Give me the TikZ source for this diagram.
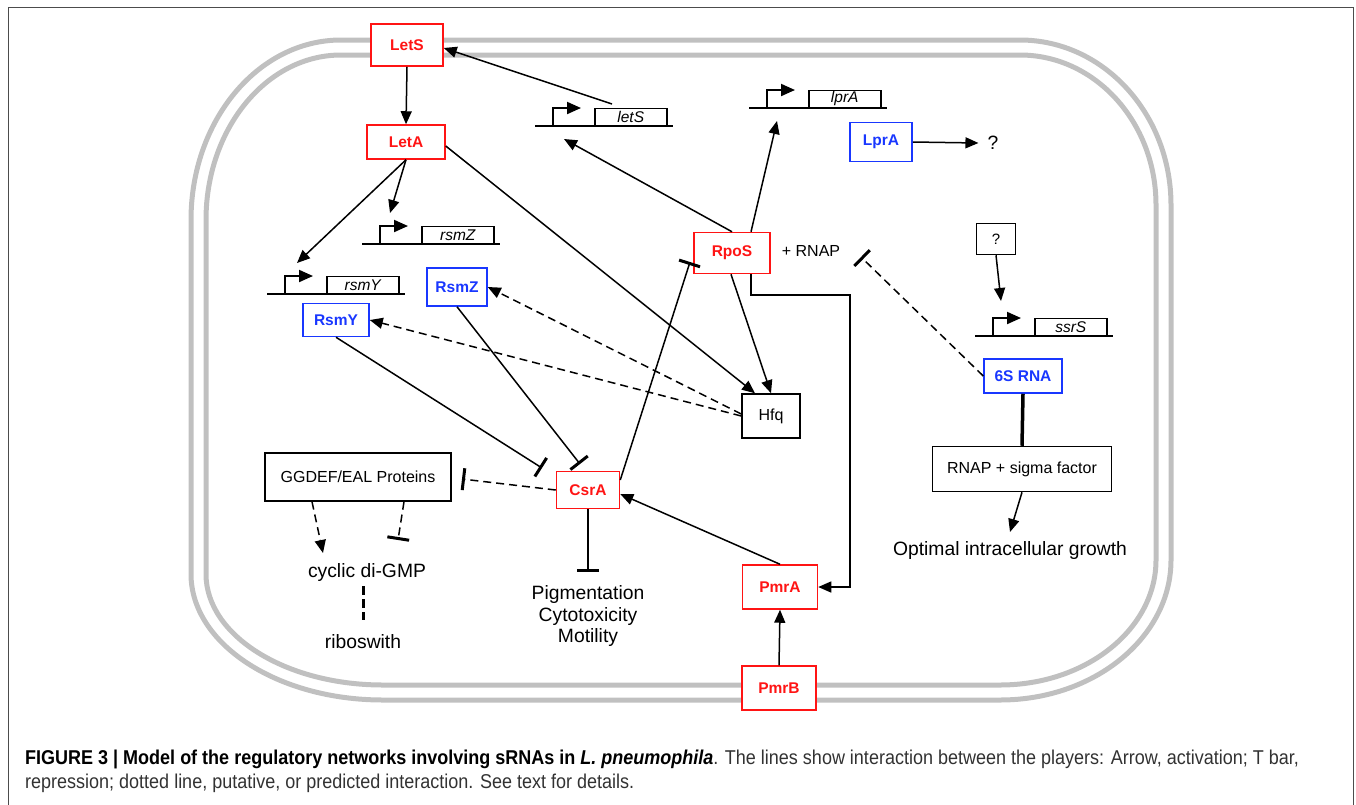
\documentclass[tikz,border=0pt]{standalone}
\usepackage{fontspec}
\setmainfont{Liberation Sans}
\newfontfamily\capfont[FakeStretch=0.9]{Liberation Sans}
\usetikzlibrary{arrows.meta,calc}
\definecolor{myred}{RGB}{255,20,20}
\definecolor{myblue}{RGB}{25,55,255}
\definecolor{memgray}{RGB}{192,192,192}
\definecolor{capgray}{RGB}{50,50,50}
\newcommand{\fs}[1]{\fontsize{#1}{#1}\selectfont}
\newcommand{\genebox}[3]{%
  \begin{scope}[shift={#2}]
    \draw[line width=2pt] (0,0) -- (138,0);
    \draw[line width=2pt,-{Triangle[length=14pt,width=12pt]}] (18,0) -- (18,-18) -- (46,-18);
    \node[draw,line width=1.5pt,minimum width=72pt,minimum height=17pt,inner sep=0pt,anchor=south west,font=\fs{15.5}\itshape] (#1) at (59,0) {#3};
  \end{scope}}
\tikzset{
  act/.style={line width=1.5pt,-{Triangle[length=13pt,width=11pt]}},
  rep/.style={line width=1.5pt,-{Bar[width=22pt,line width=3pt]}},
  dsh/.style={dash pattern=on 8pt off 5pt},
  redbox/.style={draw=myred,line width=1.5pt,fill=white,text=myred,font=\fs{15.5}\bfseries,inner sep=0pt},
  bluebox/.style={draw=myblue,line width=1.5pt,fill=white,text=myblue,font=\fs{15.5}\bfseries,inner sep=0pt},
  blkbox/.style={draw=black,line width=1.5pt,fill=white,font=\fs{16},inner sep=0pt},
  lbl/.style={font=\fs{19.3},inner sep=0pt,align=center},
  membrane/.style={draw=memgray,line width=5pt}
}
\begin{document}
\begin{tikzpicture}[x=1pt,y=-1pt]
\useasboundingbox (0,0) rectangle (1356,804);
% outer frame
\draw[line width=1pt,black!70] (8,820) -- (8,7) -- (1353,7) -- (1353,820);
% membrane
\draw[membrane] (341,40) -- (1020,40) .. controls (1103.4,40) and (1171,113.9) .. (1171,205) -- (1171,560) .. controls (1171,637.3) and (1094.4,700) .. (1000,700) -- (383,700) .. controls (277,700) and (191,643.6) .. (191,574) -- (191,220) .. controls (191,120.6) and (258.2,40) .. (341,40) -- cycle;
\draw[membrane] (341,55) -- (1020,55) .. controls (1095.1,55) and (1156,122.2) .. (1156,205) -- (1156,560) .. controls (1156,629) and (1086.2,685) .. (1000,685) -- (383,685) .. controls (285.2,685) and (206,635.3) .. (206,574) -- (206,220) .. controls (206,128.9) and (266.4,55) .. (341,55) -- cycle;
% genes
\genebox{letS}{(535,126)}{letS}
\genebox{lprA}{(749,108)}{lprA}
\genebox{rsmZg}{(362,244)}{rsmZ}
\genebox{rsmYg}{(267,294)}{rsmY}
\genebox{ssrS}{(975,336)}{ssrS}
% nodes
\node[redbox,minimum width=72pt,minimum height=42pt] (LetS) at (407,45) {LetS};
\node[redbox,minimum width=78pt,minimum height=34pt] (LetA) at (406,142) {LetA};
\node[redbox,minimum width=76pt,minimum height=41pt] (RpoS) at (732,253) {RpoS};
\node[redbox,minimum width=63pt,minimum height=37pt] (CsrA) at (588,490) {CsrA};
\node[redbox,minimum width=75pt,minimum height=44pt] (PmrA) at (780,587) {PmrA};
\node[redbox,minimum width=74pt,minimum height=44pt] (PmrB) at (779,688) {PmrB};
\node[bluebox,minimum width=62pt,minimum height=39pt] (LprA) at (881,142) {LprA};
\node[bluebox,minimum width=60pt,minimum height=38pt] (RsmZ) at (457,287) {RsmZ};
\node[bluebox,minimum width=66pt,minimum height=33pt] (RsmY) at (336,320) {RsmY};
\node[bluebox,minimum width=78pt,minimum height=34pt] (S6) at (1023,376) {6S RNA};
\node[blkbox,minimum width=58pt,minimum height=44pt] (Hfq) at (771,416) {Hfq};
\node[blkbox,minimum width=39pt,minimum height=31pt,font=\fs{15}] (Q) at (996,239) {?};
\node[blkbox,minimum width=179pt,minimum height=45pt] (RNAP) at (1022,469) {RNAP + sigma factor};
\node[blkbox,minimum width=186pt,minimum height=48pt] (GG) at (358,477) {GGDEF/EAL Proteins};
\node[lbl,font=\fs{16}] (RNAPt) at (811,251) {+ RNAP};
\node[lbl] (Q2) at (993,143) {?};
\node[lbl] (cdg) at (367,572) {cyclic di-GMP};
\node[lbl] (ribo) at (363,642) {riboswith};
\node[lbl,font=\fontsize{19.3}{21.5}\selectfont] (pig) at (588,616) {Pigmentation\\Cytotoxicity\\Motility};
\node[lbl] (opt) at (1010,550) {Optimal intracellular growth};
% free ends
\coordinate (letSsrc) at (612,104);
\coordinate (rsmYin) at (297,263);
\coordinate (rsmZin) at (390,213);
\coordinate (letSin) at (564,139);
\coordinate (lprAin) at (777,121);
\coordinate (e2) at (850,295);
\coordinate (ssrSin) at (1001,301);
\coordinate (rnapbar) at (861,257);
\coordinate (optin) at (1010,532);
\coordinate (rposbar) at (690,262);
\coordinate (pigbar) at (588,572);
\coordinate (ggbar) at (462,479);
\coordinate (cdgin) at (323,553);
\coordinate (cdgbar) at (398,540);
\coordinate (cdgd) at (363,586);
\coordinate (ribou) at (363,620);
\coordinate (rsmzbar) at (580,464);
\coordinate (rsmybar) at (542,468);
% connectors
\draw[act] (LetS.south) -- (LetA.north);
\draw[act] (letSsrc) -- ([yshift=-3pt]LetS.east);
\draw[act] (LetA.south) -- (rsmYin);
\draw[act] (LetA.south) -- (rsmZin);
\draw[act] ([yshift=-4pt]LetA.east) -- ([xshift=-16pt]Hfq.north);
\draw[act] (RpoS.north) -- (letSin);
\draw[act] ([xshift=19pt]RpoS.north) -- (lprAin);
\draw[act] ([xshift=-1pt]RpoS.south) -- (Hfq.north);
\draw[act] ([xshift=19pt]RpoS.south) |- (e2) |- (PmrA.east);
\draw[act] (LprA.east) -- ([xshift=-9pt]Q2.west);
\draw[act] (Q.south) -- (ssrSin);
\draw[rep,dsh] (S6.west) -- (rnapbar);
\draw[line width=3.5pt] (S6.south) -- (RNAP.north);
\draw[act] (RNAP.south) -- (optin);
\draw[act] (PmrB.north) -- (PmrA.south);
\draw[act] (PmrA.north) -- ([yshift=-4pt]CsrA.east);
\draw[rep] ([yshift=10pt]CsrA.east) -- (rposbar);
\draw[rep] (CsrA.south) -- (pigbar);
\draw[rep,dsh] (CsrA.west) -- (ggbar);
\draw[act,dsh] ([xshift=-46pt]GG.south) -- (cdgin);
\draw[rep,dsh] ([xshift=46pt]GG.south) -- (cdgbar);
\draw[line width=3pt,dash pattern=on 9pt off 4pt] (cdgd) -- (ribou);
\draw[rep] (RsmZ.south) -- (rsmzbar);
\draw[rep] (RsmY.south) -- (rsmybar);
\draw[act,dsh] ([yshift=2pt]Hfq.west) -- (RsmZ.east);
\draw[act,dsh] (Hfq.west) -- (RsmY.east);
% caption
\node[anchor=base west,inner sep=0pt,font=\capfont\fs{20},text=capgray] (cap1) at (25,764) {\textcolor{black}{\textbf{FIGURE 3 | Model of the regulatory networks involving sRNAs in \textit{L. pneumophila}}}. The lines show interaction between the players: Arrow, activation; T bar,};
\node[anchor=base west,inner sep=0pt,font=\capfont\fs{20},text=capgray] (cap2) at (25,788) {repression; dotted line, putative, or predicted interaction. See text for details.};
\end{tikzpicture}
\end{document}
